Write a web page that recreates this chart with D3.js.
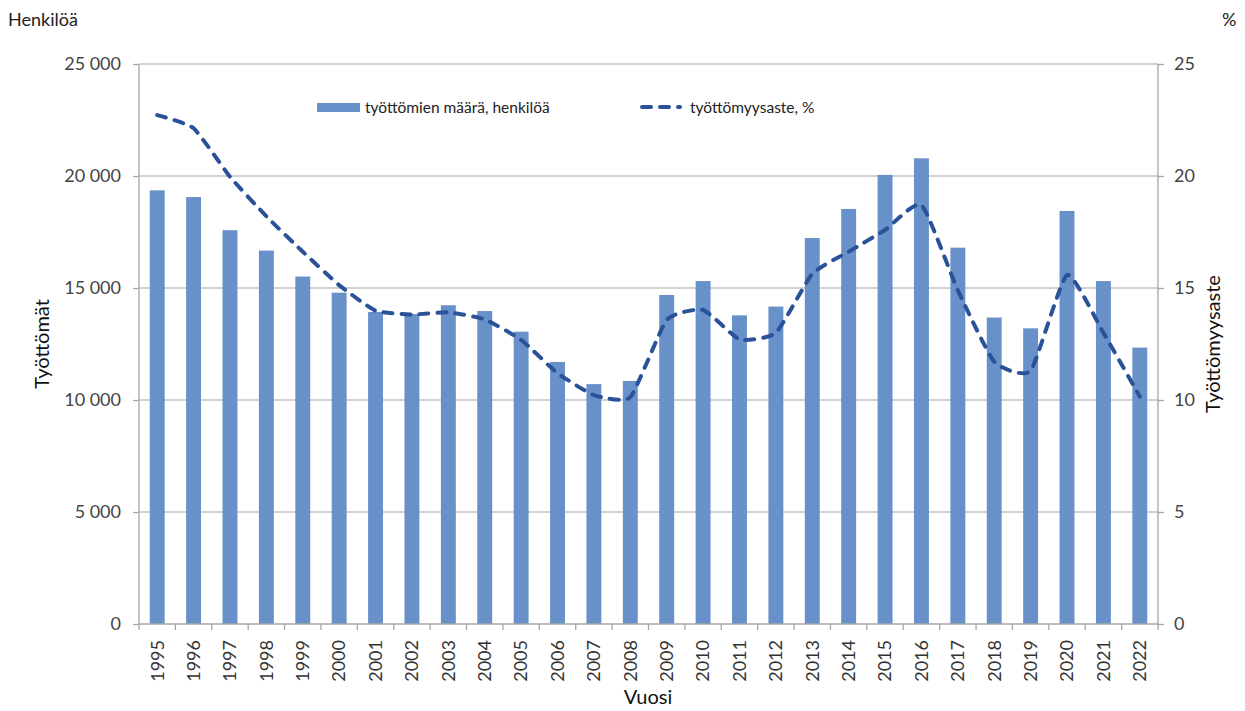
<!DOCTYPE html>
<html>
<head>
<meta charset="utf-8">
<script src="https://cdn.jsdelivr.net/npm/d3@7"></script>
<style>
  body { margin: 0; background: #fff; }
  svg text { font-family: Lato, "Open Sans", sans-serif; }
</style>
</head>
<body>
<div id="chart"></div>
<script>
// vuodet, työttömät (henkilöä) ja työttömyysaste (%)
const years = [1995, 1996, 1997, 1998, 1999, 2000, 2001, 2002, 2003, 2004, 2005, 2006, 2007, 2008,
  2009, 2010, 2011, 2012, 2013, 2014, 2015, 2016, 2017, 2018, 2019, 2020, 2021, 2022];
const unemployed = [19360, 19060, 17580, 16670, 15510, 14790, 13930, 13840, 14230, 13970, 13050, 11700, 10710, 10850,
  14690, 15310, 13780, 14170, 17230, 18530, 20050, 20790, 16800, 13680, 13200, 18440, 15310, 12340];
const rate = [22.72, 22.13, 19.97, 18.2, 16.62, 15.13, 13.99, 13.82, 13.91, 13.6, 12.68, 11.2, 10.22, 10.13,
  13.57, 14.02, 12.71, 13.0, 15.63, 16.62, 17.59, 18.71, 14.9, 11.71, 11.31, 15.58, 13.0, 10.15];
const leftTicks = [0, 5000, 10000, 15000, 20000, 25000];
const rightTicks = [0, 5, 10, 15, 20, 25];

const W = 1245, H = 711;
const m = { left: 139, right: W - 1158, top: 64, bottom: H - 624 };
const iw = W - m.left - m.right, ih = H - m.top - m.bottom;

const svg = d3.select("#chart").append("svg").attr("width", W).attr("height", H);
const g = svg.append("g").attr("transform", `translate(${m.left},${m.top})`);

const x = d3.scaleBand().domain(years).range([0, iw]).paddingInner(0.59).paddingOuter(0.295);
const xb = d3.scaleBand().domain(years).range([0, iw]);
const yL = d3.scaleLinear().domain([0, 25000]).range([ih, 0]);
const yR = d3.scaleLinear().domain([0, 25]).range([ih, 0]);
const fmt = v => d3.format(",")(v).replace(/,/g, " ");

const gridCol = "#a6a6a6", txtCol = "#444";

// gridlines
g.append("g").selectAll("line").data(leftTicks.slice(1)).join("line")
  .attr("x1", 0).attr("x2", iw).attr("y1", d => yL(d)).attr("y2", d => yL(d))
  .attr("stroke", gridCol).attr("stroke-width", 1.2);

// bars
g.append("g").selectAll("rect").data(years).join("rect")
  .attr("x", (d) => x(d)).attr("width", x.bandwidth())
  .attr("y", (d, i) => yL(unemployed[i])).attr("height", (d, i) => ih - yL(unemployed[i]))
  .attr("fill", "#6890c9");

// line
const line = d3.line().x((d, i) => xb(years[i]) + xb.bandwidth() / 2).y(d => yR(d))
  .curve(d3.curveCardinal.tension(0.5));
g.append("path").datum(rate).attr("d", line)
  .attr("fill", "none").attr("stroke", "#2a5298").attr("stroke-width", 4)
  .attr("stroke-dasharray", "9,9").attr("stroke-linecap", "round");

// axes
const axL = g.append("g").call(d3.axisLeft(yL).tickValues(leftTicks).tickFormat(fmt).tickSize(6).tickPadding(12));
const axR = g.append("g").attr("transform", `translate(${iw},0)`)
  .call(d3.axisRight(yR).tickValues(rightTicks).tickSize(6).tickPadding(10));
const axB = g.append("g").attr("transform", `translate(0,${ih})`)
  .call(d3.axisBottom(xb).tickSize(0).tickPadding(0));
[axL, axR, axB].forEach(a => {
  a.select(".domain").attr("stroke", gridCol).attr("stroke-width", 1.3);
  a.selectAll(".tick line").attr("stroke", gridCol).attr("stroke-width", 1.3);
  a.selectAll("text").attr("fill", txtCol).style("font-size", "18px")
    .style("font-family", "Lato, sans-serif");
});
axL.select(".domain").attr("d", `M0,${ih}V0`);
axR.select(".domain").attr("d", `M0,${ih}V0`);
axB.select(".domain").attr("d", `M0,0H${iw}`);
// x tick marks on band boundaries
axB.append("g").selectAll("line").data(d3.range(years.length + 1)).join("line")
  .attr("x1", i => i * xb.step()).attr("x2", i => i * xb.step()).attr("y1", 0).attr("y2", 6)
  .attr("stroke", gridCol).attr("stroke-width", 1.3);
axB.selectAll(".tick text")
  .attr("transform", "rotate(-90)").attr("text-anchor", "end")
  .attr("x", -16).attr("y", 0).attr("dy", "0.35em")
  .style("font-size", "18px").attr("fill", "#333");

// titles
svg.append("text").attr("x", 8).attr("y", 26).text("Henkilöä").style("font-size", "18px").attr("fill", "#222");
svg.append("text").attr("x", 1222).attr("y", 26).text("%").style("font-size", "18px").attr("fill", "#222");
svg.append("text").attr("x", 648).attr("y", 704).attr("text-anchor", "middle").text("Vuosi")
  .style("font-size", "20px").attr("fill", "#111");
svg.append("text").attr("transform", "translate(49,344) rotate(-90)").attr("text-anchor", "middle")
  .text("Työttömät").style("font-size", "20px").attr("fill", "#111");
svg.append("text").attr("transform", "translate(1220,344) rotate(-90)").attr("text-anchor", "middle")
  .text("Työttömyysaste").style("font-size", "20px").attr("fill", "#111");

// legend
const lg = svg.append("g");
lg.append("rect").attr("x", 317).attr("y", 103).attr("width", 43).attr("height", 9).attr("fill", "#6890c9");
lg.append("text").attr("x", 365).attr("y", 113).text("työttömien määrä, henkilöä")
  .style("font-size", "15.5px").attr("fill", "#222");
lg.append("line").attr("x1", 642).attr("x2", 680).attr("y1", 107).attr("y2", 107)
  .attr("stroke", "#2a5298").attr("stroke-width", 4).attr("stroke-dasharray", "9,9").attr("stroke-linecap", "round");
lg.append("text").attr("x", 690).attr("y", 113).text("työttömyysaste, %")
  .style("font-size", "15.5px").attr("fill", "#222");
</script>
</body>
</html>
